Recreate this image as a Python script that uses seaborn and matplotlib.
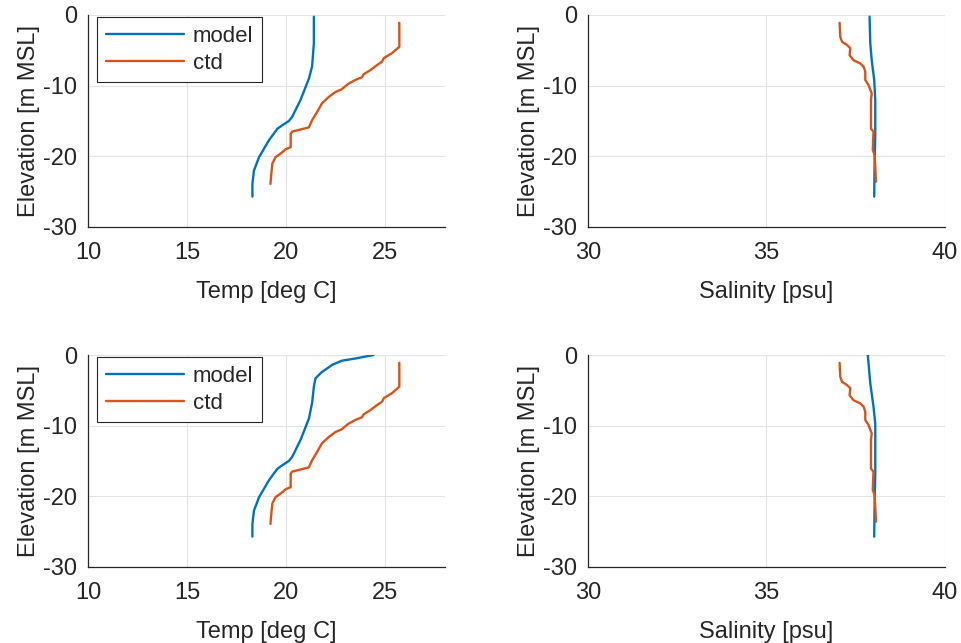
import matplotlib
matplotlib.use("Agg")
import matplotlib.pyplot as plt
import seaborn as sns
import pandas as pd

# ---------------- data ----------------
# Temperature, model (top row)
model_temp_depth_1 = [-0.25, -4.0, -7.3, -9.0, -12.0, -14.4, -15.0, -15.6, -16.1, -17.7, -20.1, -22.0, -23.9, -25.7]
model_temp_1 = [21.39, 21.39, 21.30, 21.14, 20.72, 20.30, 20.13, 19.80, 19.55, 19.13, 18.63, 18.37, 18.29, 18.29]
# Temperature, model (bottom row)
model_temp_depth_2 = [0.0, -0.5, -0.8, -1.4, -2.4, -3.3, -4.5, -6.8, -9.0, -12.0, -14.4, -15.0, -15.6, -16.1, -17.7, -20.1, -22.0, -23.9, -25.7]
model_temp_2 = [24.40, 23.48, 22.81, 22.31, 21.80, 21.47, 21.39, 21.30, 21.14, 20.72, 20.30, 20.13, 19.80, 19.55, 19.13, 18.63, 18.37, 18.29, 18.29]
# Temperature, ctd (both rows)
ctd_temp_depth = [-1.1, -4.5, -5.4, -6.1, -6.6, -7.1, -7.8, -8.4, -8.8, -9.2, -9.7, -10.25, -10.5, -10.9, -11.6,
                  -12.5, -13.7, -14.9, -15.9, -16.5, -16.8, -18.7, -19.0, -19.6, -20.1, -21.0, -22.0, -23.9]
ctd_temp = [25.70, 25.70, 25.33, 24.92, 24.83, 24.57, 24.24, 23.90, 23.82, 23.48, 23.15, 22.90, 22.81, 22.48, 22.14,
            21.80, 21.56, 21.30, 21.14, 20.30, 20.22, 20.22, 19.97, 19.72, 19.46, 19.30, 19.26, 19.20]

# Salinity, model (top row)
model_sal_depth_1 = [-0.24, -4.0, -6.4, -9.2, -12.0, -16.8, -21.5, -25.7]
model_sal_1 = [37.89, 37.91, 37.95, 38.02, 38.05, 38.05, 38.03, 38.02]
# Salinity, model (bottom row)
model_sal_depth_2 = [0.0, -4.0, -7.3, -9.7, -16.8, -21.5, -25.7]
model_sal_2 = [37.84, 37.91, 38.00, 38.05, 38.05, 38.03, 38.02]
# Salinity, ctd (both rows)
ctd_sal_depth = [-1.1, -3.1, -3.8, -4.25, -4.7, -5.7, -6.4, -6.85, -7.3, -8.0, -9.2, -9.9, -11.1, -12.0,
                 -16.1, -16.5, -19.1, -19.8, -21.5, -23.6]
ctd_sal = [37.05, 37.07, 37.12, 37.26, 37.35, 37.33, 37.44, 37.63, 37.72, 37.77, 37.77, 37.86, 37.95, 37.93,
           37.93, 38.00, 37.98, 38.03, 38.05, 38.07]

series_names = ["model", "ctd"]
temp_ticks = [10, 15, 20, 25]
sal_ticks = [30, 35, 40]
elev_ticks = [-30, -20, -10, 0]

# ---------------- style ----------------
sns.set_theme(style="white")
plt.rcParams["font.family"] = ["Liberation Sans", "DejaVu Sans"]
plt.rcParams["axes.unicode_minus"] = False
plt.rcParams["xtick.direction"] = "in"
plt.rcParams["ytick.direction"] = "in"

BLUE = "#0072BD"
ORANGE = "#D95319"
AX_COL = "#262626"

fig = plt.figure(figsize=(9.62, 6.43), dpi=100)
W = 0.371
H = 0.3297
positions = {
    (0, 0): [0.0915, 0.647, W, H],
    (0, 1): [0.6112, 0.647, W, H],
    (1, 0): [0.0915, 0.1182, W, H],
    (1, 1): [0.6112, 0.1182, W, H],
}

panels = [
    ((0, 0), model_temp_1, model_temp_depth_1, ctd_temp, ctd_temp_depth, "Temp [deg C]", (10, 28), temp_ticks, True),
    ((0, 1), model_sal_1, model_sal_depth_1, ctd_sal, ctd_sal_depth, "Salinity [psu]", (30, 40), sal_ticks, False),
    ((1, 0), model_temp_2, model_temp_depth_2, ctd_temp, ctd_temp_depth, "Temp [deg C]", (10, 28), temp_ticks, True),
    ((1, 1), model_sal_2, model_sal_depth_2, ctd_sal, ctd_sal_depth, "Salinity [psu]", (30, 40), sal_ticks, False),
]

for key, mv, md, cv, cd, xlabel, xlim, xticks, legend in panels:
    ax = fig.add_axes(positions[key])
    df_m = pd.DataFrame({"value": mv, "elev": md})
    df_c = pd.DataFrame({"value": cv, "elev": cd})
    sns.lineplot(data=df_m, x="value", y="elev", sort=False, estimator=None, color=BLUE,
                 linewidth=1.7, ax=ax, label=series_names[0])
    sns.lineplot(data=df_c, x="value", y="elev", sort=False, estimator=None, color=ORANGE,
                 linewidth=1.7, ax=ax, label=series_names[1])
    ax.set_xlim(*xlim)
    ax.set_ylim(-30, 0)
    ax.set_xticks(xticks)
    ax.set_yticks(elev_ticks)
    ax.set_xlabel(xlabel, fontsize=17, color=AX_COL, labelpad=12)
    ax.set_ylabel("Elevation [m MSL]", fontsize=17, color=AX_COL, labelpad=2)
    ax.tick_params(axis="x", labelsize=17, colors=AX_COL, length=3, width=0.8, pad=11)
    ax.tick_params(axis="y", labelsize=17, colors=AX_COL, length=3, width=0.8, pad=8)
    ax.grid(True, color="#e3e3e3", linewidth=0.8)
    ax.set_axisbelow(True)
    for s in ["top", "right"]:
        ax.spines[s].set_visible(False)
    for s in ["left", "bottom"]:
        ax.spines[s].set_color(AX_COL)
        ax.spines[s].set_linewidth(0.9)
    if legend:
        leg = ax.legend(loc="upper left", bbox_to_anchor=(0.025, 0.99), fontsize=16,
                        frameon=True, fancybox=False, edgecolor=AX_COL, framealpha=1,
                        handlelength=3.5, handletextpad=0.4, borderpad=0.4, labelspacing=0.25,
                        borderaxespad=0.0)
        leg.get_frame().set_linewidth(0.8)
        for t in leg.get_texts():
            t.set_color(AX_COL)
    else:
        lg = ax.get_legend()
        if lg is not None:
            lg.remove()

fig.savefig("out.png", dpi=100)
